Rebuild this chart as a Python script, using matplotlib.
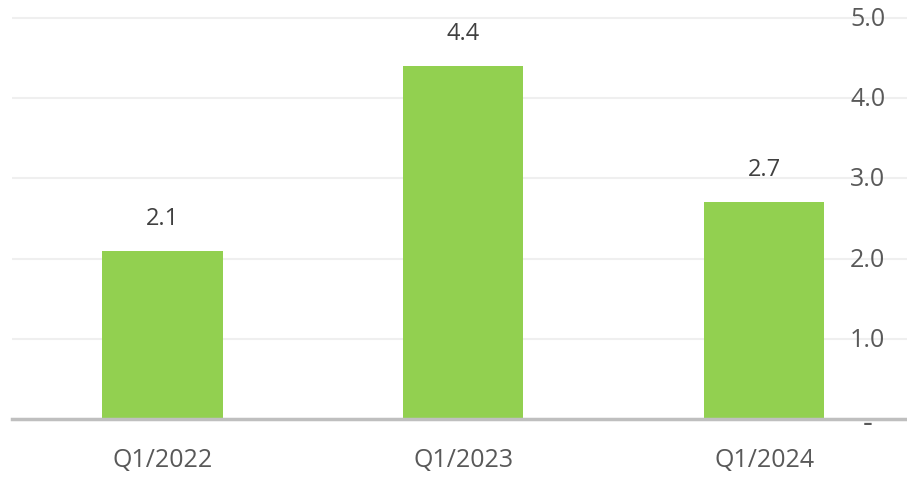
import numpy as np
import matplotlib.pyplot as plt

plt.rcParams['font.family'] = ['Open Sans', 'DejaVu Sans']

quarters = ['Q1/2022', 'Q1/2023', 'Q1/2024']
values = [2.1, 4.4, 2.7]
yticks = [0, 1.0, 2.0, 3.0, 4.0, 5.0]
ytick_labels = ['-', '1.0', '2.0', '3.0', '4.0', '5.0']

fig = plt.figure(figsize=(9.07, 4.79), dpi=100)
ax = fig.add_axes([12/907, 60/479, 895/907, 419/479])

x = np.arange(len(quarters))
ax.bar(x, values, width=0.4, color='#92D050', zorder=2)

ax.set_xlim(-0.5, 2.475)
ax.set_ylim(0, 5.224)

for t in yticks[1:]:
    ax.axhline(t, color='#EFEFEF', lw=1.5, zorder=0)
ax.axhline(0, color='#BFBFBF', lw=2.5, zorder=3, clip_on=False)

for xi, v in zip(x, values):
    ax.annotate(f'{v:.1f}', (xi, v), xytext=(0, 32), textcoords='offset pixels',
                ha='center', va='center', fontsize=17, color='#404040')

tr = ax.get_yaxis_transform()
for t, lab in zip(yticks, ytick_labels):
    dy = -0.06 if t == 0 else -0.02
    ax.text(0.956, t + dy, lab, transform=tr, ha='center', va='center',
            fontsize=22 if t == 0 else 18, color='#595959', zorder=4)

ax.set_xticks(x)
ax.set_xticklabels(quarters, fontsize=18, color='#595959')
ax.tick_params(axis='x', length=0, pad=21)
ax.set_yticks([])
for s in ax.spines.values():
    s.set_visible(False)

fig.savefig('out.png', dpi=100)
